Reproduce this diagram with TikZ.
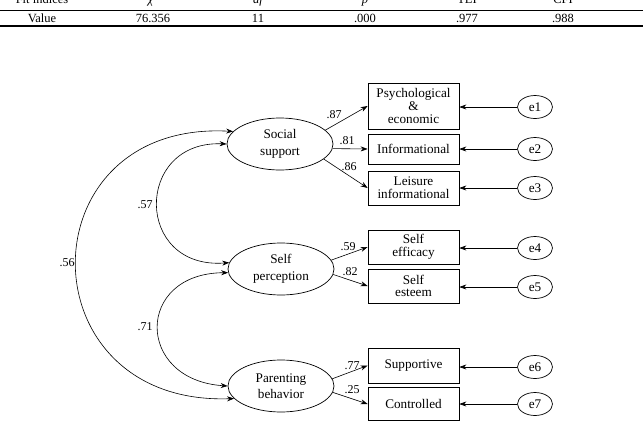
\documentclass[tikz,border=0pt]{standalone}
\usepackage{fontspec}
\setmainfont{Liberation Serif}
\usetikzlibrary{arrows.meta,shapes.geometric}
\tikzset{
  lat/.style={ellipse,draw,line width=0.7pt,minimum width=106pt,minimum height=52pt,inner sep=0pt,align=center,font=\fontsize{13.2}{16.5}\selectfont},
  ind/.style={rectangle,draw,line width=0.7pt,minimum width=91pt,inner sep=0pt,align=center,font=\fontsize{13.2}{12.8}\selectfont},
  err/.style={ellipse,draw,line width=0.7pt,minimum width=35pt,minimum height=23pt,inner sep=0pt,font=\fontsize{13.2}{13}\selectfont},
  coef/.style={font=\fontsize{12}{12}\selectfont,inner sep=0pt},
  tab/.style={font=\fontsize{12.5}{12}\selectfont,inner sep=0pt},
  arr/.style={-{Stealth[length=7pt,width=5pt]},line width=0.6pt},
  darr/.style={{Stealth[length=7pt,width=5pt]}-{Stealth[length=7pt,width=5pt]},line width=0.6pt}
}
\begin{document}
\begin{tikzpicture}[x=1pt,y=-1pt]
\useasboundingbox (0,0) rectangle (643,434);
\clip (0,0) rectangle (643,434);
% table
\foreach \x/\t in {42/Fit indices,153/{\itshape χ\textsuperscript{2}},258/{\itshape df},365/{\itshape p},467/TLI,563/CFI}
  \node[tab,anchor=base] at (\x,3) {\t};
\draw[line width=1.6pt] (0,10.5) -- (643,10.5);
\node[tab] (tv) at (42,18) {Value};
\node[tab] (t1) at (153,18) {76.356};
\node[tab] (t2) at (258,18) {11};
\node[tab] (t3) at (365,18) {.000};
\node[tab] (t4) at (467,18) {.977};
\node[tab] (t5) at (563,18) {.988};
\draw[line width=1.6pt] (0,26) -- (643,26);
% latent
\node[lat] (ss) at (280,144) {Social\\support};
\node[lat] (sp) at (281,269) {Self\\perception};
\node[lat] (pb) at (281,386) {Parenting\\behavior};
% indicators
\node[ind,minimum height=46pt] (pe) at (413.5,106) {Psychological\\\&\\economic};
\node[ind,minimum height=30pt] (in) at (413.5,149) {Informational};
\node[ind,minimum height=34pt] (li) at (413.5,188) {Leisure\\informational};
\node[ind,minimum height=34pt] (ef) at (413.5,247) {Self\\efficacy};
\node[ind,minimum height=34pt] (es) at (413.5,286) {Self\\esteem};
\node[ind,minimum height=35pt] (su) at (413.5,365.5) {Supportive};
\node[ind,minimum height=33pt] (co) at (413.5,404) {Controlled};
% errors
\node[err] (e1) at (535,107) {e1};
\node[err] (e2) at (535,149) {e2};
\node[err] (e3) at (535,188) {e3};
\node[err] (e4) at (535,248) {e4};
\node[err] (e5) at (535,287) {e5};
\node[err] (e6) at (535,367) {e6};
\node[err] (e7) at (535,404) {e7};
\foreach \e/\b in {e1/pe,e2/in,e3/li,e4/ef,e5/es,e6/su,e7/co}
  \draw[arr] (\e.west) -- (\e.west -| \b.east);
% loadings
\draw[arr] (ss.17) -- (pe.west);
\draw[arr] (ss.-5) -- (in.west);
\draw[arr] (ss.-19) -- (li.west);
\draw[arr] (sp.10) -- (ef.west);
\draw[arr] (sp.-6) -- (es.west);
\draw[arr] (pb.8) -- (su.west);
\draw[arr] (pb.-7) -- (co.west);
\node[coef] at (334,115) {.87};
\node[coef] at (347,141) {.81};
\node[coef] at (349,167) {.86};
\node[coef] at (348,247) {.59};
\node[coef] at (350,272) {.82};
\node[coef] at (352,366) {.77};
\node[coef] at (352,390) {.25};
% covariances
\draw[darr] (ss.165) .. controls (24,120) and (24,406) .. (pb.195);
\draw[darr] (ss.west) .. controls (134,140) and (134,270) .. (sp.173);
\draw[darr] (sp.184) .. controls (135,273) and (135,380) .. (pb.west);
\node[coef] at (67,263) {.56};
\node[coef] at (145,205) {.57};
\node[coef] at (145,327) {.71};
\end{tikzpicture}
\end{document}
